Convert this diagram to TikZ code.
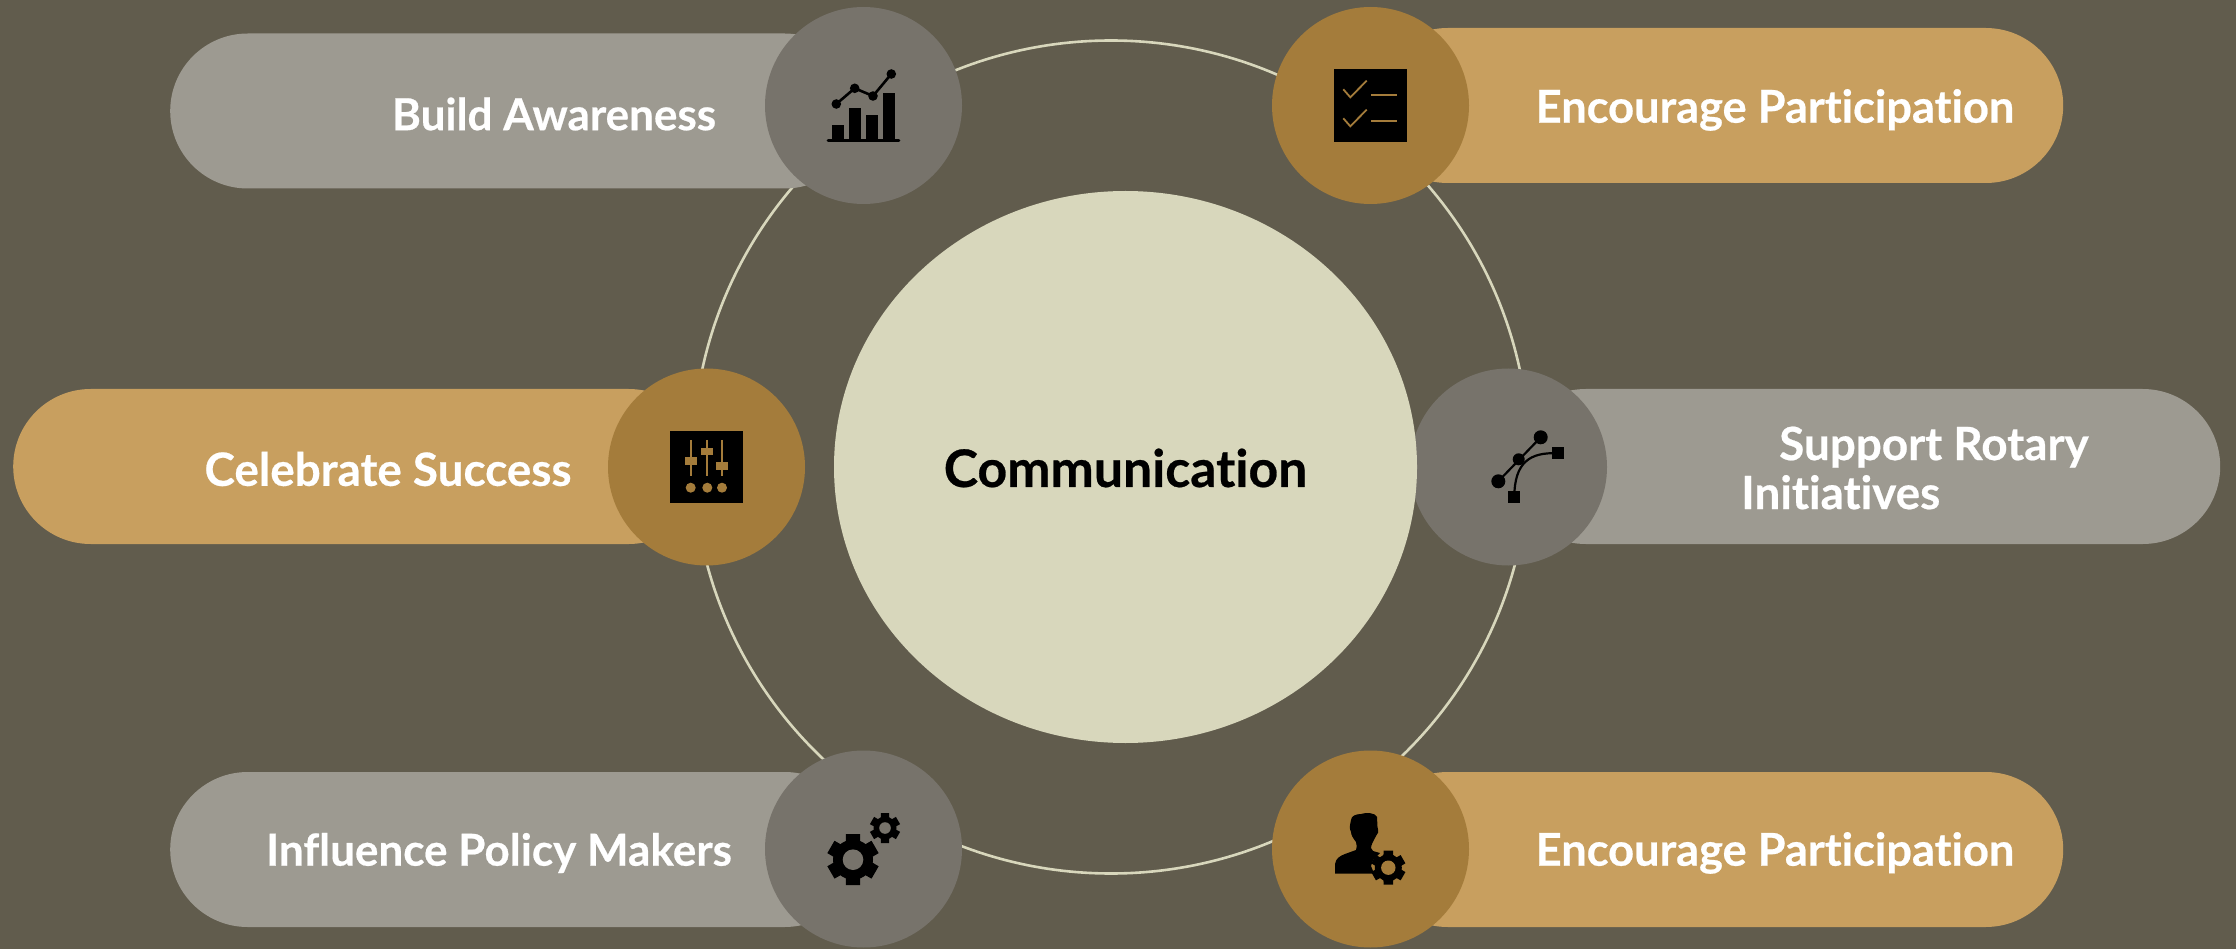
\documentclass[tikz,border=0pt]{standalone}
\usepackage{fontspec}
\setmainfont[Ligatures=NoCommon,BoldFeatures={FakeBold=0.5}]{Lato}
\usetikzlibrary{shapes.geometric}
\definecolor{bgc}{HTML}{615C4D}
\definecolor{pillgray}{HTML}{9D9A91}
\definecolor{circgray}{HTML}{77736B}
\definecolor{pilltan}{HTML}{C89F5F}
\definecolor{circtan}{HTML}{A47C3B}
\definecolor{core}{HTML}{D8D7BC}
\tikzset{
  pill/.style={rectangle,inner sep=0pt,minimum height=155pt,rounded corners=77.5pt,anchor=west},
  graypill/.style={pill,fill=pillgray},
  tanpill/.style={pill,fill=pilltan},
  disc/.style={circle,inner sep=0pt,minimum size=197pt},
  graydisc/.style={disc,fill=circgray},
  tandisc/.style={disc,fill=circtan},
  label/.style={text=white,font=\fontsize{45.2pt}{49pt}\selectfont\bfseries,inner sep=0pt},
  smalllabel/.style={label,font=\fontsize{44pt}{49pt}\selectfont\bfseries},
  largelabel/.style={label,font=\fontsize{45.8pt}{49pt}\selectfont\bfseries},
  iconline/.style={line width=2.6pt,black},
}
\newcommand{\gearicon}[6]{% cx cy outer body hole holecolour
  \fill[black] (#1,#2) circle[radius=#4pt];
  \foreach \ang in {0,60,...,300}{
    \fill[black,shift={(#1,#2)},rotate=\ang]
      (-#4*0.36,-#4*0.8) -- (-#3*0.28,-#3) -- (#3*0.28,-#3) -- (#4*0.36,-#4*0.8) -- cycle;
  }
  \fill[#6] (#1,#2) circle[radius=#5pt];
}
\begin{document}
\begin{tikzpicture}[x=1pt,y=-1pt]
\useasboundingbox (0,0) rectangle (2236,949);
\fill[bgc] (0,0) rectangle (2236,949);
% ring
\node[ellipse,draw=core,line width=2.6pt,inner sep=0pt,minimum width=836pt,minimum height=833pt] (ring) at (1111,457) {};
% pills
\node[graypill,minimum width=692pt] (pillTL) at (170,111) {};
\node[tanpill,minimum width=693pt] (pillTR) at (1370,105.5) {};
\node[tanpill,minimum width=693pt] (pillML) at (13,466.5) {};
\node[graypill,minimum width=712pt] (pillMR) at (1508,466.5) {};
\node[graypill,minimum width=692pt] (pillBL) at (170,849.5) {};
\node[tanpill,minimum width=693pt] (pillBR) at (1370,849.5) {};
% discs
\node[graydisc] (discTL) at (863.5,105.5) {};
\node[tandisc] (discTR) at (1370.5,105.5) {};
\node[tandisc] (discML) at (706.5,467) {};
\node[graydisc] (discMR) at (1508.5,467) {};
\node[graydisc] (discBL) at (863.5,849) {};
\node[tandisc] (discBR) at (1370.5,849) {};
% centre
\node[ellipse,fill=core,inner sep=0pt,minimum width=583pt,minimum height=552pt] (centre) at (1125.5,467) {};
\node[font=\fontsize{51.7pt}{55pt}\selectfont\bfseries,text=black,inner sep=0pt] (centreText) at (1125.5,468) {Communication};
% labels
\node[smalllabel] (tTL) at (554,114) {Build Awareness};
\node[label] (tTR) at (1775,110) {Encourage Participation};
\node[largelabel] (tML) at (388,469) {Celebrate Success};
\node[smalllabel] (tBL) at (499,853) {Influence Policy Makers};
\node[label] (tBR) at (1775,853) {Encourage Participation};
\node[largelabel,align=left,anchor=west] (tMR) at (1741,468) {\hspace*{38pt}Support Rotary\\Initiatives};
% chart icon
\fill[black] (832,125) rectangle (844,141);
\fill[black] (849,108) rectangle (861,141);
\fill[black] (866,115) rectangle (878,141);
\fill[black] (883,93.5) rectangle (895,141);
\draw[black,line width=2.6pt,line cap=round] (828,140.7) -- (899,140.7);
\draw[iconline] (836.3,104) -- (854.7,88.3) -- (873,96) -- (891.3,74);
\foreach \px/\py in {836.3/104,854.7/88.3,873/96,891.3/74}
  \fill[black] (\px,\py) circle[radius=4.8pt];
% checklist icon
\fill[black] (1334,69.3) rectangle (1406.7,142);
\draw[circtan,line width=1.8pt] (1343.3,89.3) -- (1350.3,97.3) -- (1366.7,80.7);
\draw[circtan,line width=1.8pt] (1343.3,118.3) -- (1350.3,126.3) -- (1366.7,109.7);
\draw[circtan,line width=2pt] (1371,95) -- (1397,95);
\draw[circtan,line width=2pt] (1371,121.3) -- (1397,121.3);
% sliders icon
\fill[black] (670,430.7) rectangle (742.7,503.3);
\foreach \sx/\sy in {690.7/461,707.3/451.3,722/466}{
  \draw[circtan,line width=2pt] (\sx,440) -- (\sx,475.7);
  \fill[circtan] (\sx-6,\sy-3.7) rectangle (\sx+6,\sy+3.7);
  \fill[circtan] (\sx,487.7) circle[radius=5pt];
}
% bezier icon
\draw[iconline,line width=2.2pt] (1498.3,481.3) -- (1540.7,437.3);
\draw[iconline,line width=2.2pt] (1558,453.3) .. controls (1530,452) and (1514.5,462) .. (1514.3,497);
\fill[black] (1540.7,437.3) circle[radius=7pt];
\fill[black] (1498.3,481.3) circle[radius=7pt];
\fill[black] (1518.7,459.3) circle[radius=6pt];
\fill[black] (1552,447.3) rectangle (1564,459.3);
\fill[black] (1508.3,491) rectangle (1520.3,503);
% gears icon
\gearicon{853}{859.7}{25.5}{20}{10.3}{circgray}
\gearicon{885}{828}{15}{11.5}{5.8}{circgray}
% person icon
\fill[black] (1351,820) .. controls (1351,816) and (1356,814) .. (1361,814)
  .. controls (1366,812) and (1376,813) .. (1377,817)
  -- (1377.5,827) .. controls (1379,832) and (1378,834) .. (1376,836)
  .. controls (1373,842) and (1371,845) .. (1371,848)
  -- (1373,851) -- (1380,853) -- (1373,860) -- (1371,866) -- (1374,873.5)
  -- (1335,873.5) -- (1335,864) .. controls (1336,858) and (1340,856) .. (1345,854)
  -- (1356,850) .. controls (1357,848) and (1357,845) .. (1356,842)
  .. controls (1353,838) and (1351,835) .. (1351,832) .. controls (1349,828) and (1350,825) .. (1351,820) -- cycle;
\gearicon{1388.3}{867.7}{17}{13.5}{7.2}{circtan}
\end{tikzpicture}
\end{document}
